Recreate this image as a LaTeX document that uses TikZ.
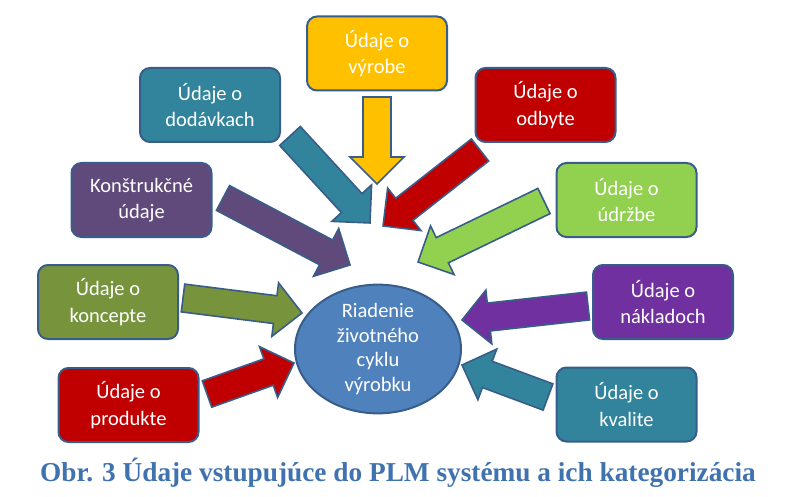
\documentclass[tikz,border=0pt]{standalone}
\usepackage{fontspec}
\setmainfont{Liberation Serif}
\newfontfamily\boxfont{Carlito}
\usetikzlibrary{calc,shapes.geometric}
\definecolor{edge}{HTML}{385D8A}
\definecolor{cyellow}{HTML}{FFC000}
\definecolor{cteal}{HTML}{31849B}
\definecolor{cplum}{HTML}{604A7B}
\definecolor{cdred}{HTML}{C00000}
\definecolor{clgreen}{HTML}{92D050}
\definecolor{colive}{HTML}{77933C}
\definecolor{cviolet}{HTML}{7030A0}
\definecolor{cblue}{HTML}{4F81BD}
\definecolor{capcol}{HTML}{3F72AF}
\tikzset{
  x=1pt, y=1pt,
  box/.style={draw=edge, line width=2pt, rounded corners=10pt, minimum width=140pt,
    minimum height=74pt, text=white, align=center, inner sep=2pt,
    font=\boxfont\fontsize{20.5}{26.5}\selectfont},
  hub/.style={ellipse, draw=edge, line width=2pt, fill=cblue, minimum width=166pt,
    minimum height=112pt, text=white, align=center, inner sep=0pt,
    font=\boxfont\fontsize{20.5}{24.5}\selectfont},
  barrow/.style={draw=edge, line width=1.6pt, line join=miter},
}
\newcommand\blockarrow[3]{%
  \path let \p1=(#2), \p2=(#3), \n1={atan2(\y2-\y1,\x2-\x1)},
    \n2={veclen(\x2-\x1,\y2-\y1)} in \pgfextra{\xdef\baang{\n1}\xdef\balen{\n2}};
  \draw[barrow, fill=#1, shift={(#2)}, rotate=\baang]
    (0,-14) -- (\balen-27,-14) -- (\balen-27,-27) -- (\balen,0)
    -- (\balen-27,27) -- (\balen-27,14) -- (0,14) -- cycle;
}
\begin{document}
\begin{tikzpicture}
\useasboundingbox (0,0) rectangle (800,-497);
% boxes
\node[box, fill=cyellow] (vyr) at (377,-53.5) {Údaje o\\výrobe};
\node[box, fill=cteal] (dod) at (210,-105) {Údaje o\\dodávkach};
\node[box, fill=cplum] (kon) at (141.5,-200) {Konštrukčné\\údaje};
\node[box, fill=cdred] (odb) at (545.5,-105) {Údaje o\\odbyte};
\node[box, fill=clgreen] (udr) at (626.5,-200) {Údaje o\\údržbe};
\node[box, fill=colive] (kcp) at (108,-302) {Údaje o\\koncepte};
\node[box, fill=cdred] (pro) at (128.5,-405) {Údaje o\\produkte};
\node[box, fill=cviolet] (nak) at (663,-302) {Údaje o\\nákladoch};
\node[box, fill=cteal] (kva) at (626.5,-404.5) {Údaje o\\kvalite};
% hub
\node[hub] (plm) at (378,-349) {Riadenie\\životného\\cyklu\\výrobku};
% arrow end points
\coordinate (vyrT) at (377,-97);   \coordinate (vyrH) at (377,-184);
\coordinate (dodT) at (290,-136);  \coordinate (dodH) at (370,-223);
\coordinate (konT) at (223,-198);  \coordinate (konH) at (350,-265);
\coordinate (kcpT) at (183,-298);  \coordinate (kcpH) at (302,-313);
\coordinate (proT) at (207,-394);  \coordinate (proH) at (294,-363);
\coordinate (odbT) at (480,-150);  \coordinate (odbH) at (383,-226);
\coordinate (udrT) at (544,-201);  \coordinate (udrH) at (418,-262);
\coordinate (nakT) at (588,-306);  \coordinate (nakH) at (462,-320);
\coordinate (kvaT) at (548,-397);  \coordinate (kvaH) at (462,-365);
\blockarrow{cyellow}{vyrT}{vyrH}
\blockarrow{cteal}{dodT}{dodH}
\blockarrow{cplum}{konT}{konH}
\blockarrow{colive}{kcpT}{kcpH}
\blockarrow{cdred}{proT}{proH}
\blockarrow{cdred}{odbT}{odbH}
\blockarrow{clgreen}{udrT}{udrH}
\blockarrow{cviolet}{nakT}{nakH}
\blockarrow{cteal}{kvaT}{kvaH}
% caption
\node[anchor=base west, inner sep=0pt, text=capcol, font=\bfseries\fontsize{27.3}{30}\selectfont]
  (cap) at (40,-481) {Obr. 3 Údaje vstupujúce do PLM systému a ich kategorizácia};
\end{tikzpicture}
\end{document}
